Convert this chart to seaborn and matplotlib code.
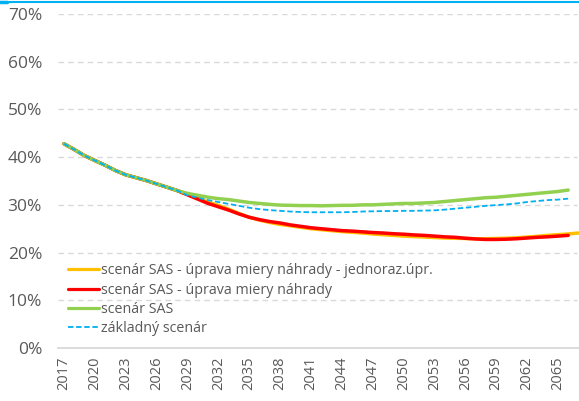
import numpy as np
import pandas as pd
import matplotlib
matplotlib.use("Agg")
import matplotlib.pyplot as plt
import seaborn as sns
from matplotlib.lines import Line2D

sns.set_style("white")
plt.rcParams['font.family'] = ['Open Sans', 'DejaVu Sans']

years = list(range(2017, 2067))
years_long = list(range(2017, 2068))

common = [42.8, 41.6, 40.3, 39.3, 38.3, 37.2, 36.3, 35.7, 35.1, 34.4, 33.7, 33.0]

sas = common + [32.4, 32.0, 31.6, 31.3, 31.1, 30.8, 30.5, 30.3, 30.1, 29.95,
                29.9, 29.85, 29.85, 29.8, 29.85, 29.9, 29.9, 30.0, 30.0, 30.1,
                30.2, 30.3, 30.3, 30.4, 30.5, 30.7, 30.9, 31.1, 31.3, 31.5,
                31.6, 31.8, 32.0, 32.2, 32.4, 32.6, 32.8, 33.1]

zakladny = common + [32.0, 31.5, 31.0, 30.6, 30.2, 29.8, 29.4, 29.1, 28.9, 28.75,
                     28.6, 28.5, 28.45, 28.45, 28.45, 28.45, 28.5, 28.6, 28.65, 28.7,
                     28.7, 28.75, 28.75, 28.8, 28.85, 29.0, 29.2, 29.4, 29.6, 29.8,
                     29.95, 30.1, 30.3, 30.6, 30.8, 31.0, 31.1, 31.3]

uprava = common + [32.1, 31.2, 30.3, 29.6, 28.9, 28.1, 27.4, 26.9, 26.5, 26.2,
                   25.8, 25.5, 25.2, 25.0, 24.8, 24.6, 24.5, 24.35, 24.2, 24.1,
                   23.95, 23.85, 23.7, 23.6, 23.45, 23.3, 23.2, 23.0, 22.85, 22.75,
                   22.75, 22.8, 22.9, 23.05, 23.2, 23.3, 23.45, 23.6]

jednoraz = common + [32.2, 31.4, 30.6, 29.9, 29.1, 28.2, 27.4, 26.8, 26.3, 25.9,
                     25.6, 25.3, 25.0, 24.8, 24.6, 24.4, 24.25, 24.1, 23.9, 23.75,
                     23.6, 23.45, 23.35, 23.25, 23.15, 23.05, 23.0, 22.95, 22.9, 22.9,
                     22.95, 23.0, 23.1, 23.25, 23.4, 23.6, 23.75, 23.9, 24.1]

labels = ["scenár SAS - úprava miery náhrady - jednoraz.úpr.",
          "scenár SAS - úprava miery náhrady",
          "scenár SAS",
          "základný scenár"]
colors = ["#FFC000", "#FF0000", "#92D050", "#00B0F0"]

x_ticks = list(range(2017, 2067, 3))
y_ticks = [0, 0.1, 0.2, 0.3, 0.4, 0.5, 0.6, 0.7]
y_ticklabels = ["0%", "10%", "20%", "30%", "40%", "50%", "60%", "70%"]

W, H = 579, 401
fig = plt.figure(figsize=(W / 100, H / 100), dpi=100)
ax = fig.add_axes([58 / W, 1 - 348 / H, (579 - 58) / W, (348 - 14) / H])

series = [(years_long, jednoraz), (years, uprava), (years, sas), (years, zakladny)]
styles = [dict(lw=2.5, ls="-"), dict(lw=2.5, ls="-"), dict(lw=2.5, ls="-"),
          dict(lw=1.3, ls=(0, (3, 1.5)))]
for (xs, vals), c, st, lab in zip(series, colors, styles, labels):
    df = pd.DataFrame({"rok": xs, "hodnota": np.array(vals) / 100})
    sns.lineplot(data=df, x="rok", y="hodnota", color=c, linewidth=st["lw"],
                 linestyle=st["ls"], ax=ax, legend=False)

ax.set_xlim(2016.42, 2067.05)
ax.set_ylim(0, 0.7)
ax.set_xticks(x_ticks)
ax.set_xticklabels([str(y) for y in x_ticks], rotation=90, fontsize=10.5, color="#595959")
ax.set_yticks(y_ticks)
ax.set_yticklabels(y_ticklabels, fontsize=12.5, color="#595959")
ax.tick_params(axis="y", length=0, pad=11.5)
ax.tick_params(axis="x", length=0, pad=6)
ax.set_xlabel("")
ax.set_ylabel("")
for s in ["left", "right", "top"]:
    ax.spines[s].set_visible(False)
ax.spines["bottom"].set_color("#d9d9d9")
ax.spines["bottom"].set_linewidth(1.3)
for yv in y_ticks[1:]:
    ax.axhline(yv, xmin=0, xmax=(577 - 58) / 521, color="#d9d9d9", lw=1,
               ls=(0, (4, 3)), zorder=0)

handles = [Line2D([], [], color=colors[0], lw=2.3),
           Line2D([], [], color=colors[1], lw=2.3),
           Line2D([], [], color=colors[2], lw=2.3),
           Line2D([], [], color=colors[3], lw=1.3, ls=(0, (3, 1.5)))]
leg = ax.legend(handles, labels, loc="upper left",
                bbox_to_anchor=((68 - 58) / 521, (348 - 263.5) / 334),
                frameon=False, fontsize=10.3, handlelength=2.2, handletextpad=0.12,
                labelspacing=0.3, borderpad=0, borderaxespad=0)
for t in leg.get_texts():
    t.set_color("#595959")

fig.add_artist(Line2D([0, 1], [1 - 2 / H, 1 - 2 / H], color="#00B0F0", lw=1.5,
                      transform=fig.transFigure))
fig.add_artist(Line2D([0, 7 / W], [1 - 1.5 / H, 1 - 1.5 / H], color="#00B0F0", lw=2.5,
                      transform=fig.transFigure))

fig.savefig("out.png", dpi=100)
